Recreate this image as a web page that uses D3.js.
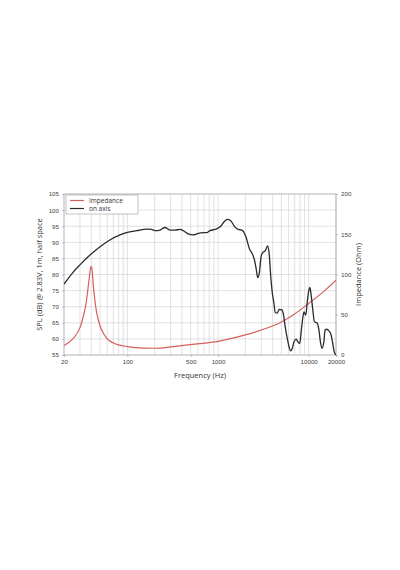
<!DOCTYPE html>
<html>
<head>
<meta charset="utf-8">
<script src="https://cdn.jsdelivr.net/npm/d3@7"></script>
<style>
  html, body { margin: 0; padding: 0; background: #fff; }
  svg { display: block; font-family: "Open Sans", "DejaVu Sans", sans-serif; }
</style>
</head>
<body>
<svg id="chart" width="400" height="570"></svg>
<script>
// SPL on axis: frequency (Hz) / level (dB)
const splFreq = [20, 25, 30, 39, 50, 64, 83, 98, 127, 163, 185, 205, 229, 260, 295, 335, 381, 414, 470, 534,
  606, 688, 750, 816, 928, 1054, 1168, 1270, 1378, 1534, 1672, 1826, 1900, 2030, 2214, 2418, 2520, 2630, 2740, 2852,
  2980, 3110, 3320, 3520, 3660, 3840, 3980, 4140, 4270, 4490, 4740, 5060, 5280, 5500, 5800, 6060, 6320, 6600, 6880, 7280,
  7600, 7960, 8300, 8640, 8860, 9280, 9640, 10060, 10300, 10640, 11100, 11560, 12300, 12960, 13460, 14000, 14700, 15160, 15880, 16900,
  17660, 18420, 19100, 20000];
const splDb = [77.0, 80.6, 83.0, 86.1, 88.6, 90.7, 92.3, 93.0, 93.6, 94.1, 94.0, 93.6, 93.8, 94.6, 93.8, 93.8, 94.0, 93.6, 92.6, 92.3,
  92.8, 93.0, 93.0, 93.6, 94.0, 94.8, 96.4, 97.1, 96.7, 94.8, 94.0, 93.8, 93.4, 91.7, 88.1, 86.1, 84.5, 81.9, 79.0, 80.4,
  85.5, 86.8, 87.4, 88.9, 86.6, 78.3, 74.0, 71.0, 68.2, 68.0, 69.2, 69.0, 67.4, 63.8, 60.2, 57.6, 56.3, 57.1, 59.1, 59.9,
  59.1, 58.6, 62.8, 66.9, 68.4, 67.4, 71.6, 75.2, 76.0, 73.6, 69.0, 65.3, 65.0, 62.8, 59.1, 57.1, 59.1, 62.8, 63.0, 62.3,
  61.2, 58.6, 56.0, 55.0];

// Impedance: frequency (Hz) / ohm
const impFreq = [20, 25, 30, 33, 35, 37, 38, 39, 40, 41, 42, 44, 46, 50, 55, 60, 70, 80, 100, 150,
  200, 300, 500, 1000, 2000, 3000, 5000, 7000, 10000, 15000, 20000];
const impOhm = [12, 20, 34, 50, 64, 85, 96, 106, 110, 104, 88, 66, 52, 36, 26, 20, 15, 12.5, 10.5, 8.6,
  8.4, 10, 13, 17, 25, 31, 41, 51, 64, 80, 93];

const splTicks = [55, 60, 65, 70, 75, 80, 85, 90, 95, 100, 105];
const impTicks = [0, 50, 100, 150, 200];
const freqLabels = [20, 100, 500, 1000, 10000, 20000];
const legendNames = ["Impedance", "on axis"];

const margin = { left: 64, right: 64, top: 194, bottom: 215 };
const W = 400, H = 570;
const iw = W - margin.left - margin.right;
const ih = H - margin.top - margin.bottom;

const svg = d3.select("#chart");
const g = svg.append("g").attr("transform", `translate(${margin.left},${margin.top})`);

const x = d3.scaleLog().domain([20, 20000]).range([0, iw]);
const y = d3.scaleLinear().domain([55, 105]).range([ih, 0]);
const y2 = d3.scaleLinear().domain([0, 200]).range([ih, 0]);

// grid: every 1..9 multiple of each decade
const gridFreq = [];
[10, 100, 1000, 10000].forEach(dec => {
  for (let k = 1; k <= 9; k++) {
    const f = dec * k;
    if (f >= 20 && f <= 20000) gridFreq.push(f);
  }
});
gridFreq.push(20000);

g.append("g").selectAll("line").data(gridFreq).join("line")
  .attr("x1", d => x(d)).attr("x2", d => x(d))
  .attr("y1", 0).attr("y2", ih)
  .attr("stroke", "#d4d4d4").attr("stroke-width", 0.7);

g.append("g").selectAll("line").data(splTicks).join("line")
  .attr("x1", 0).attr("x2", iw)
  .attr("y1", d => y(d)).attr("y2", d => y(d))
  .attr("stroke", "#d4d4d4").attr("stroke-width", 0.7);

g.append("rect").attr("width", iw).attr("height", ih)
  .attr("fill", "none").attr("stroke", "#b5b5b5").attr("stroke-width", 0.8);

// axes
const axisStyle = sel => {
  sel.select(".domain").remove();
  sel.selectAll(".tick line").attr("stroke", "#999").attr("stroke-width", 0.6);
  sel.selectAll(".tick text").attr("fill", "#444").attr("font-size", 6.2);
};

g.append("g").attr("transform", `translate(0,${ih})`)
  .call(d3.axisBottom(x).tickValues(freqLabels).tickFormat(d3.format("d")).tickSize(2).tickPadding(3))
  .call(axisStyle);

g.append("g")
  .call(d3.axisLeft(y).tickValues(splTicks).tickSize(2).tickPadding(3))
  .call(axisStyle);

g.append("g").attr("transform", `translate(${iw},0)`)
  .call(d3.axisRight(y2).tickValues(impTicks).tickSize(2).tickPadding(3))
  .call(axisStyle);

// axis titles
svg.append("text").attr("x", margin.left + iw / 2).attr("y", 378)
  .attr("text-anchor", "middle").attr("font-size", 7.5).attr("fill", "#333")
  .text("Frequency (Hz)");

svg.append("text").attr("transform", `translate(42,${margin.top + ih / 2}) rotate(-90)`)
  .attr("text-anchor", "middle").attr("font-size", 7.5).attr("fill", "#333")
  .text("SPL (dB) @ 2.83V, 1m, half space");

svg.append("text").attr("transform", `translate(361,${margin.top + ih / 2}) rotate(-90)`)
  .attr("text-anchor", "middle").attr("font-size", 7.5).attr("fill", "#333")
  .text("Impedance (Ohm)");

// curves
g.append("clipPath").attr("id", "plotclip")
  .append("rect").attr("width", iw).attr("height", ih + 1);

const line = d3.line().curve(d3.curveMonotoneX);

g.append("path")
  .attr("clip-path", "url(#plotclip)")
  .attr("d", line(impFreq.map((f, i) => [x(f), y2(impOhm[i])])))
  .attr("fill", "none").attr("stroke", "#d4605c").attr("stroke-width", 1.2);

g.append("path")
  .attr("clip-path", "url(#plotclip)")
  .attr("d", line(splFreq.map((f, i) => [x(f), y(splDb[i])])))
  .attr("fill", "none").attr("stroke", "#2b2b2b").attr("stroke-width", 1.3);

// legend
const colors = ["#d4605c", "#2b2b2b"];
const lg = g.append("g").attr("transform", "translate(2,1)");
lg.append("rect").attr("width", 72).attr("height", 19)
  .attr("fill", "#fff").attr("stroke", "#999").attr("stroke-width", 0.6);
legendNames.forEach((name, i) => {
  const row = lg.append("g").attr("transform", `translate(0,${5.5 + i * 8})`);
  row.append("line").attr("x1", 4).attr("x2", 18).attr("y1", 0).attr("y2", 0)
    .attr("stroke", colors[i]).attr("stroke-width", 1.2);
  row.append("text").attr("x", 23).attr("y", 0).attr("dy", "0.35em")
    .attr("font-size", 6.5).attr("fill", "#333").text(name);
});
</script>
</body>
</html>
